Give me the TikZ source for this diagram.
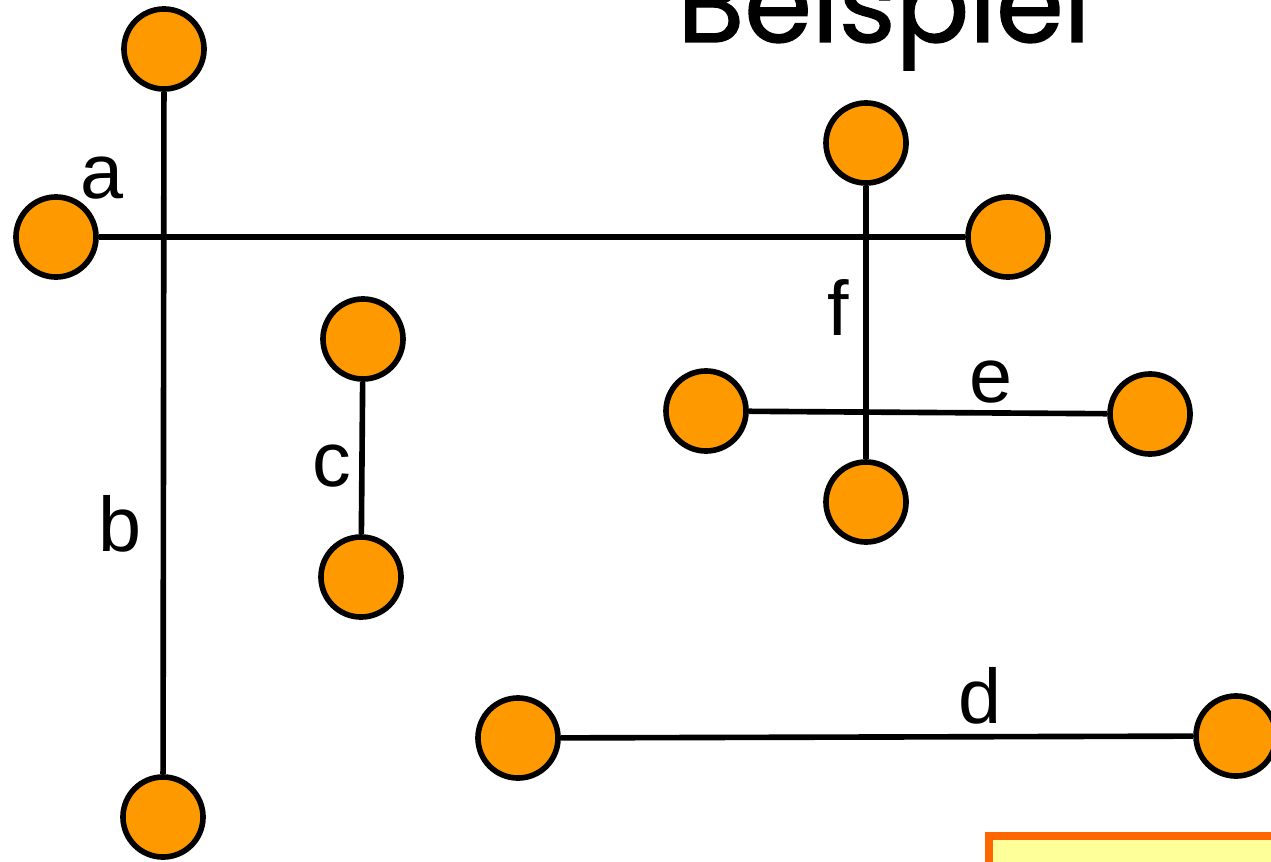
\documentclass[tikz,border=0pt]{standalone}
\usepackage{fontspec}
\setmainfont{Liberation Sans}
\newfontfamily\titlefont[FakeBold=1.2]{Poppins}
\definecolor{vertexfill}{HTML}{FF9900}
\definecolor{boxedge}{HTML}{FF6600}
\definecolor{boxfill}{HTML}{FFFF99}
\begin{document}
\begin{tikzpicture}[x=0.01cm,y=-0.01cm,
  vertex/.style={circle,draw=black,fill=vertexfill,line width=1.6pt,minimum size=0.8cm,inner sep=0pt},
  edge/.style={draw=black,line width=1.6pt},
  elabel/.style={font=\fontsize{22}{24}\selectfont,inner sep=0pt}]
\useasboundingbox (0,0) rectangle (1271,861);
\clip (0,0) rectangle (1271,861);

% heading, partly above the frame
\node[font=\titlefont\fontsize{31}{36}\selectfont,anchor=base,inner sep=0pt] (title) at (884,42) {Beispiel};

% vertices
\node[vertex] (bt) at (164,49) {};
\node[vertex] (bb) at (163,817) {};
\node[vertex] (al) at (56,237) {};
\node[vertex] (ar) at (1008,237) {};
\node[vertex] (ct) at (363,339) {};
\node[vertex] (cb) at (361,577) {};
\node[vertex] (ft) at (866,143) {};
\node[vertex] (fb) at (866,502) {};
\node[vertex] (el) at (706,411) {};
\node[vertex] (er) at (1150,414) {};
\node[vertex] (dl) at (518,738) {};
\node[vertex] (dr) at (1236,736) {};

% edges
\draw[edge] (bt) -- (bb);
\draw[edge] (al) -- (ar);
\draw[edge] (ct) -- (cb);
\draw[edge] (ft) -- (fb);
\draw[edge] (el) -- (er);
\draw[edge] (dl) -- (dr);

% edge labels
\node[elabel] (la) at (102,178) {a};
\node[elabel] (lb) at (120,524) {b};
\node[elabel] (lc) at (332,466) {c};
\node[elabel] (lf) at (838,308) {f};
\node[elabel] (le) at (991,382) {e};
\node[elabel] (ld) at (980,696) {d};

% note box at the lower right
\draw[draw=boxedge,fill=boxfill,line width=2.3pt] (989,836) rectangle (1320,920);
\end{tikzpicture}
\end{document}
